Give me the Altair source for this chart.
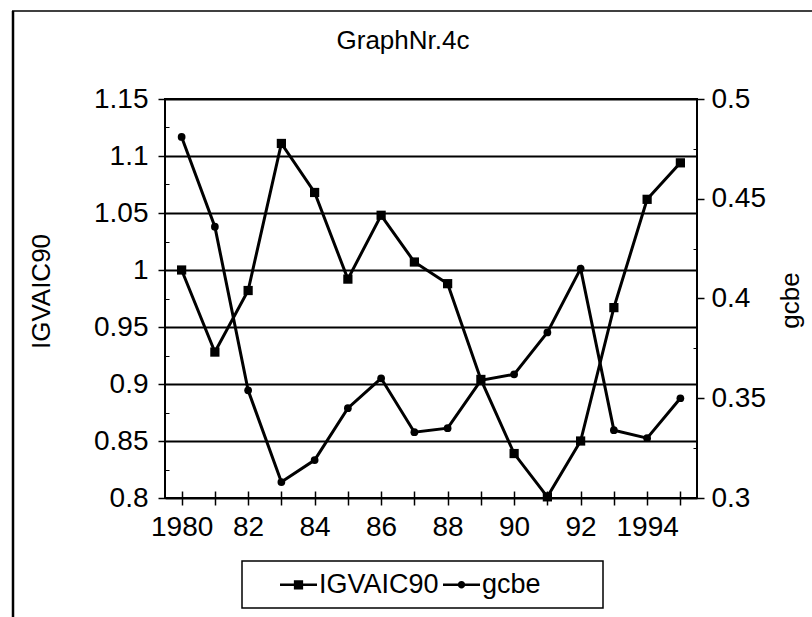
import altair as alt
import pandas as pd

# Annual values, 1980-1995
years = list(range(1980, 1996))
igvaic90 = [1.000, 0.928, 0.982, 1.111, 1.068, 0.992, 1.048, 1.007,
            0.988, 0.904, 0.839, 0.801, 0.850, 0.967, 1.062, 1.094]
gcbe = [0.481, 0.436, 0.354, 0.308, 0.319, 0.345, 0.360, 0.333,
        0.335, 0.359, 0.362, 0.383, 0.415, 0.334, 0.330, 0.350]

# Axis ticks and labels
year_tick_labels = ["1980", "", "82", "", "84", "", "86", "", "88", "",
                    "90", "", "92", "", "1994", ""]
left_ticks = [0.8, 0.85, 0.9, 0.95, 1.0, 1.05, 1.1, 1.15]
left_minor = [0.825, 0.875, 0.925, 0.975, 1.025, 1.075, 1.125]
right_ticks = [0.3, 0.35, 0.4, 0.45, 0.5]
right_minor = [0.325, 0.375, 0.425, 0.475]
series_names = ["IGVAIC90", "gcbe"]

FONT = "Liberation Sans"

df = pd.DataFrame({"year": years, "IGVAIC90": igvaic90, "gcbe": gcbe})
one_row = pd.DataFrame({"k": [0]})

label_expr = " : ".join(
    f"datum.value == {y} ? '{t}'" for y, t in zip(years, year_tick_labels) if t
) + " : ''"

x_axis = alt.Axis(
    title=None, domain=False, offset=-7, tickSize=14, tickWidth=1.5,
    labelFontSize=28, labelPadding=8, labelAngle=0, labelOverlap=False,
    labelExpr=label_expr, grid=False,
)
x_enc = alt.X("year:O", scale=alt.Scale(type="point", padding=0.5), axis=x_axis)

left_scale = alt.Scale(domain=[0.8, 1.15], nice=False, zero=False)
right_scale = alt.Scale(domain=[0.3, 0.5], nice=False, zero=False)

# IGVAIC90 on the left axis, square markers
igv_layer = alt.Chart(df).mark_line(
    color="black", strokeWidth=3,
    point=alt.OverlayMarkDef(shape="square", size=85, filled=True, color="black", opacity=1),
).encode(
    x=x_enc,
    y=alt.Y("IGVAIC90:Q", scale=left_scale, axis=alt.Axis(
        orient="left", values=left_ticks, format=".2~f", domain=False,
        tickSize=7, tickWidth=1.5, labelFontSize=28, labelPadding=10,
        grid=True, gridColor="black", gridWidth=2, gridOpacity=1,
        title="IGVAIC90", titleFontSize=26, titleAngle=-90, titleX=-124, titleY=192,
        titleAlign="center", titleBaseline="middle",
    )),
)

# gcbe on the right axis, circle markers
gcbe_layer = alt.Chart(df).mark_line(
    color="black", strokeWidth=3,
    point=alt.OverlayMarkDef(shape="circle", size=60, filled=True, color="black", opacity=1),
).encode(
    x=x_enc,
    y=alt.Y("gcbe:Q", scale=right_scale, axis=alt.Axis(
        orient="right", values=right_ticks, format=".2~f", domain=False,
        tickSize=7, tickWidth=1.5, labelFontSize=28, labelPadding=7, grid=False,
        title="gcbe", titleFontSize=26, titleAngle=-90, titleX=93, titleY=201,
        titleAlign="center", titleBaseline="middle",
    )),
)

# Inward minor ticks on both value axes
left_minor_layer = alt.Chart(df).mark_point(opacity=0).encode(
    x=x_enc,
    y=alt.Y("IGVAIC90:Q", scale=left_scale, axis=alt.Axis(
        orient="left", values=left_minor, labels=False, domain=False, grid=False,
        offset=-4, tickSize=4, tickWidth=1, title=None,
    )),
)
right_minor_layer = alt.Chart(df).mark_point(opacity=0).encode(
    x=x_enc,
    y=alt.Y("gcbe:Q", scale=right_scale, axis=alt.Axis(
        orient="right", values=right_minor, labels=False, domain=False, grid=False,
        offset=-4, tickSize=4, tickWidth=1, title=None,
    )),
)

# Legend entries: line segment with the series marker
square_path = "M-1,-0.07H1V0.07H-1Z M-0.25,-0.25H0.25V0.25H-0.25Z"
circle_path = ("M-1,-0.07H1V0.07H-1Z "
               "M-0.2,0A0.2,0.2 0 1,1 0.2,0A0.2,0.2 0 1,1 -0.2,0Z")
legend_layer = alt.Chart(pd.DataFrame({"series": series_names})).mark_point(
    filled=True, opacity=0, color="black"
).encode(
    x=alt.value(0), y=alt.value(0),
    shape=alt.Shape("series:N",
                    scale=alt.Scale(domain=series_names, range=[square_path, circle_path]),
                    legend=alt.Legend(
                        title=None, orient="none", legendX=107, legendY=459,
                        direction="horizontal", columns=2, columnPadding=4,
                        labelFontSize=27, labelOffset=2, symbolSize=1369,
                        symbolOpacity=1, symbolFillColor="black", symbolStrokeWidth=0,
                        padding=8,
                    )),
)

# Legend box and outer chart frame
legend_box = alt.Chart(one_row).mark_rect(
    fill="white", fillOpacity=0, stroke="black", strokeWidth=1.5
).encode(x=alt.value(77), x2=alt.value(438), y=alt.value(462), y2=alt.value(509))

frame_left = alt.Chart(one_row).mark_rule(color="black", strokeWidth=2.5).encode(
    x=alt.value(-152), y=alt.value(-88), y2=alt.value(518))
frame_top = alt.Chart(one_row).mark_rule(color="black", strokeWidth=1.5).encode(
    y=alt.value(-88), x=alt.value(-153), x2=alt.value(647))

chart = alt.layer(
    frame_left, frame_top, igv_layer, gcbe_layer,
    left_minor_layer, right_minor_layer, legend_box, legend_layer,
).resolve_scale(y="independent").properties(
    width=532, height=399,
    padding={"left": 165, "top": 99, "right": 115, "bottom": 119},
    autosize=alt.AutoSizeParams(type="none"),
    background="white",
    title=alt.TitleParams("GraphNr.4c", fontSize=26, anchor="middle", frame="group",
                          baseline="alphabetic", offset=0, dx=-28, dy=65),
).configure_view(
    stroke="black", strokeWidth=2
).configure_axis(
    labelFont=FONT, titleFont=FONT, labelColor="black", titleColor="black",
    tickColor="black", domainColor="black", titleFontWeight="normal",
).configure_legend(
    labelFont=FONT, labelColor="black",
).configure_title(
    font=FONT, color="black", fontWeight="normal",
)

chart.save("out.html", embed_options={"renderer": "svg", "actions": False})
